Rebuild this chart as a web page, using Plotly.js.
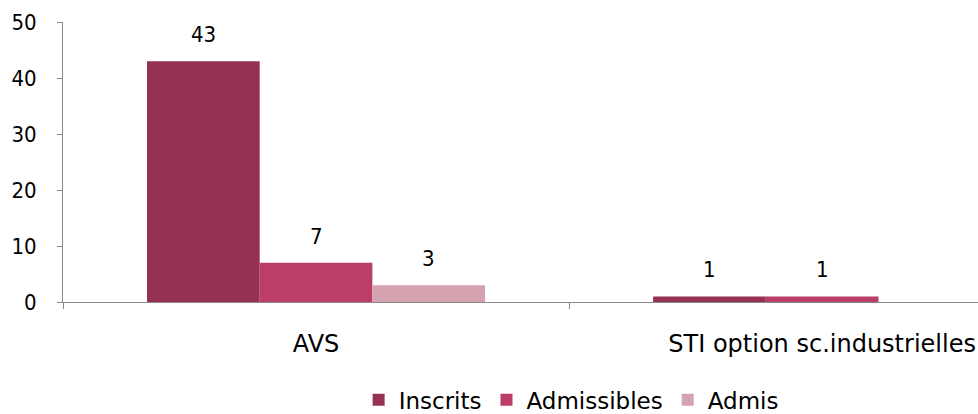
<!DOCTYPE html>
<html>
<head>
<meta charset="utf-8">
<script src="https://cdn.plot.ly/plotly-3.0.1.min.js"></script>
<style>html,body{margin:0;padding:0;background:#fff;}#chart{width:978px;height:414px;}</style>
</head>
<body>
<div id="chart"></div>
<script>
var categories = ["AVS", "STI option sc.industrielles"];
var seriesNames = ["Inscrits", "Admissibles", "Admis"];
var inscrits = [43, 1];
var admissibles = [7, 1];
var admis = [3, null];
var colors = ["#953254", "#bb3d6a", "#d5a3af"];
var yTicks = [0, 10, 20, 30, 40, 50];

var series = [inscrits, admissibles, admis];
var bargap = 0.332;
var barW = (1 - bargap) / series.length;
var numFont = "DejaVu Sans Condensed, DejaVu Sans";
var txtFont = "DejaVu Sans";

var traces = series.map(function (vals, k) {
  return {
    type: "bar",
    name: seriesNames[k],
    x: categories,
    y: vals,
    marker: {color: colors[k], line: {width: 0}},
    hoverinfo: "none"
  };
});

var annotations = [];
series.forEach(function (vals, k) {
  vals.forEach(function (v, i) {
    if (v === null) return;
    annotations.push({
      x: i + (k - (series.length - 1) / 2) * barW,
      y: v,
      xref: "x", yref: "y",
      text: String(v),
      showarrow: false,
      yanchor: "bottom",
      yshift: 12,
      font: {family: numFont, size: 22, color: "#000"}
    });
  });
});

var layout = {
  width: 978, height: 414,
  margin: {l: 63, r: 0, t: 22, b: 112},
  paper_bgcolor: "#fff", plot_bgcolor: "#fff",
  barmode: "group", bargap: bargap, bargroupgap: 0,
  showlegend: true,
  font: {family: txtFont, size: 22, color: "#000"},
  xaxis: {
    type: "category",
    range: [-0.5, 1.308],
    tickson: "boundaries",
    ticks: "outside", ticklen: 6, tickcolor: "#898989",
    showline: true, linecolor: "#898989", linewidth: 1,
    showgrid: false, zeroline: false,
    ticklabelstandoff: 20,
    tickfont: {family: txtFont, size: 24, color: "#000"},
    fixedrange: true
  },
  yaxis: {
    range: [0, 50],
    tickvals: yTicks,
    ticks: "outside", ticklen: 5, tickcolor: "#898989",
    showline: true, linecolor: "#898989", linewidth: 1,
    showgrid: false, zeroline: false,
    ticklabelstandoff: 16,
    tickfont: {family: numFont, size: 22, color: "#000"},
    fixedrange: true
  },
  legend: {
    orientation: "h",
    xref: "container", yref: "container",
    x: 0.584, xanchor: "center",
    y: 0.034, yanchor: "middle",
    font: {family: txtFont, size: 23, color: "#000"},
    itemwidth: 30, tracegroupgap: 0
  },
  annotations: annotations
};

Plotly.newPlot("chart", traces, layout, {displayModeBar: false, staticPlot: true});
</script>
</body>
</html>
